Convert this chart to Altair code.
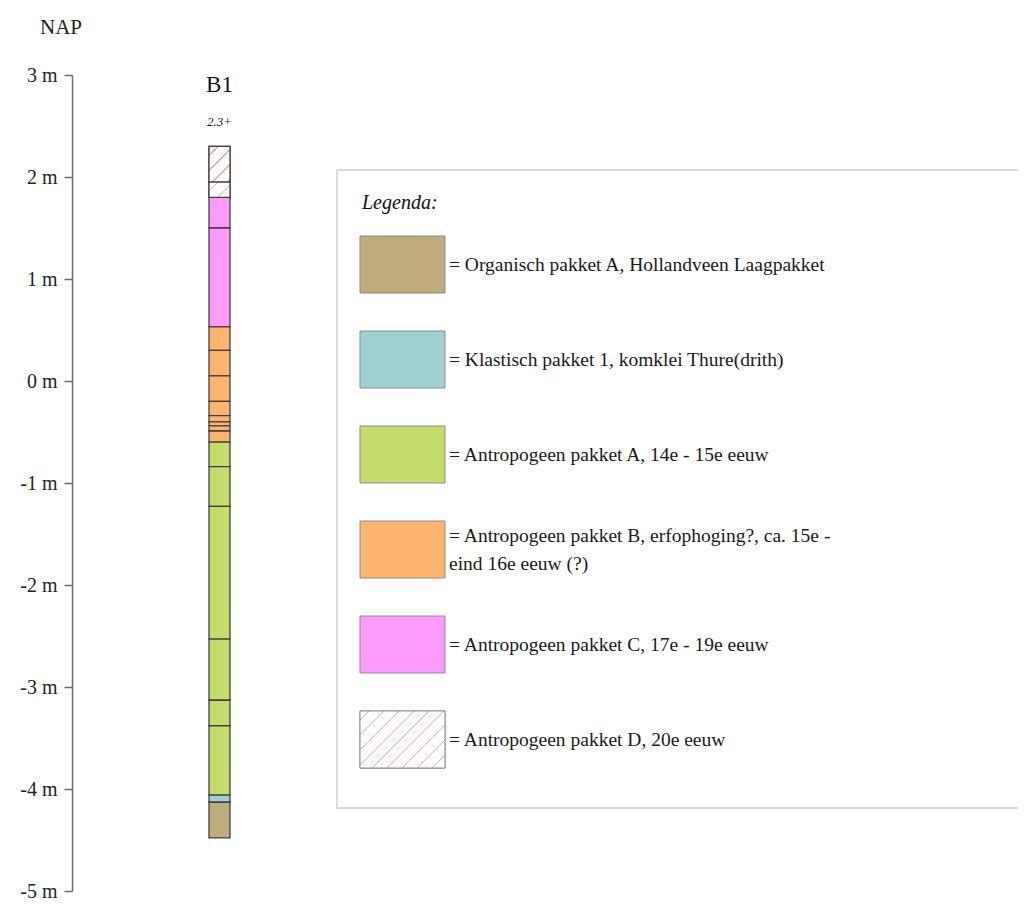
import altair as alt
import pandas as pd

# ---------------- data ----------------
unit_codes = ["OA", "K1", "AA", "AB", "AC", "AD"]
unit_lines = [
    ["= Organisch pakket A, Hollandveen Laagpakket"],
    ["= Klastisch pakket 1, komklei Thure(drith)"],
    ["= Antropogeen pakket A, 14e - 15e eeuw"],
    ["= Antropogeen pakket B, erfophoging?, ca. 15e  -", "\u00a0\u00a0\u00a0\u00a0eind 16e eeuw (?)"],
    ["= Antropogeen pakket C, 17e  - 19e eeuw"],
    ["= Antropogeen pakket D, 20e eeuw"],
]
unit_colors = ["#BEAC7D", "#9ED0D2", "#C4DC6C", "#FDB46E", "#FC9BFC", "#FFFFFF"]
hatched_unit = "AD"

layer_top = [2.30, 1.95, 1.80, 1.50, 0.53, 0.30, 0.05, -0.20, -0.34, -0.40,
             -0.44, -0.49, -0.60, -0.84, -1.23, -2.53, -3.13, -3.38, -4.06, -4.13]
layer_bottom = [1.95, 1.80, 1.50, 0.53, 0.30, 0.05, -0.20, -0.34, -0.40, -0.44,
                -0.49, -0.60, -0.84, -1.23, -2.53, -3.13, -3.38, -4.06, -4.13, -4.48]
layer_unit = ["AD", "AD", "AC", "AC", "AB", "AB", "AB", "AB", "AB", "AB",
              "AB", "AB", "AA", "AA", "AA", "AA", "AA", "AA", "K1", "OA"]

borehole_name = "B1"
axis_values = [3, 2, 1, 0, -1, -2, -3, -4, -5]

# ---------------- layout / style ----------------
LEFT, TOP = 64, 67
PLOT_W, PLOT_H = 946, 816
BOTTOM = 892 - TOP - PLOT_H
Y_DOMAIN = [-5, 3]
PX_PER_M = PLOT_H / (Y_DOMAIN[1] - Y_DOMAIN[0])
SERIF = "Liberation Serif"


def px(page_x):
    return page_x - 8 - LEFT


def py(page_y):
    return page_y - 8 - TOP


COL_X0, COL_X1 = px(209), px(230)
SW_X0, SW_X1 = px(360), px(445)
LEG_RANGE = [py(236), py(768)]
LEG_PAD = 0.4
SW_H = (LEG_RANGE[1] - LEG_RANGE[0]) / (len(unit_codes) - LEG_PAD) * (1 - LEG_PAD)
LINE_H = 28


def hatch(w, h, spacing=15.0, lw=1.3, color="#F3A5A5"):
    s = w + h
    gx = (w + h) * w / (w * w + h * h)
    gy = (w + h) * h / (w * w + h * h)
    stops = [{"offset": 0, "color": "#FFFFFF"}]
    c = spacing * 0.6
    while c < s:
        t0 = max(0.0, (c - lw / 2) / s)
        t1 = min(1.0, (c + lw / 2) / s)
        stops += [
            {"offset": t0, "color": "#FFFFFF"},
            {"offset": t0, "color": color},
            {"offset": t1, "color": color},
            {"offset": t1, "color": "#FFFFFF"},
        ]
        c += spacing
    stops.append({"offset": 1, "color": "#FFFFFF"})
    return {"gradient": "linear", "x1": 0, "y1": 0, "x2": gx, "y2": gy, "stops": stops}


layers_df = pd.DataFrame({"top": layer_top, "bottom": layer_bottom, "unit": layer_unit})
legend_df = pd.DataFrame({"idx": list(range(len(unit_codes))), "unit": unit_codes})
text_rows = []
for i, lines in enumerate(unit_lines):
    n = len(lines)
    for j, ln in enumerate(lines):
        text_rows.append({"idx": i, "line": ln, "off": SW_H / 2 + (j - (n - 1) / 2) * LINE_H})
legend_txt_df = pd.DataFrame(text_rows)

color = alt.Color("unit:N", scale=alt.Scale(domain=unit_codes, range=unit_colors), legend=None)
yq_scale = alt.Scale(domain=Y_DOMAIN, nice=False, zero=False)
leg_scale = alt.Scale(domain=list(range(len(unit_codes))), range=LEG_RANGE,
                      paddingInner=LEG_PAD, paddingOuter=0)

# borehole column
column = alt.Chart(layers_df).mark_rect(stroke="#404040", strokeWidth=1.3).encode(
    x=alt.value(COL_X0), x2=alt.value(COL_X1),
    y=alt.Y("top:Q", scale=yq_scale,
            axis=alt.Axis(values=axis_values, labelExpr="datum.value + ' m'", title=None,
                          orient="left", grid=False, tickSize=8, domainColor="#6b6b6b",
                          tickColor="#6b6b6b", domainWidth=1.5, tickWidth=1.5,
                          labelFont=SERIF, labelFontSize=20, labelColor="#222222",
                          labelPadding=7)),
    y2="bottom:Q",
    fill=color,
)

hatch_layers = []
for i, r in layers_df[layers_df["unit"] == hatched_unit].iterrows():
    h = (r["top"] - r["bottom"]) * PX_PER_M
    hatch_layers.append(
        alt.Chart(layers_df.loc[[i]]).mark_rect(
            fill=hatch(COL_X1 - COL_X0, h), stroke="#404040", strokeWidth=1.3
        ).encode(
            x=alt.value(COL_X0), x2=alt.value(COL_X1),
            y=alt.Y("top:Q", scale=yq_scale, axis=None), y2="bottom:Q",
        )
    )

name_df = pd.DataFrame({"t": [borehole_name]})
name_txt = alt.Chart(name_df).mark_text(font=SERIF, fontSize=23, color="#111111").encode(
    text="t:N", x=alt.value((COL_X0 + COL_X1) / 2), y=alt.value(py(85)))
top_df = pd.DataFrame({"t": [f"{layer_top[0]}+"]})
top_txt = alt.Chart(top_df).mark_text(font=SERIF, fontSize=13, fontStyle="italic", color="#222222").encode(
    text="t:N", x=alt.value((COL_X0 + COL_X1) / 2), y=alt.value(py(122)))
nap_df = pd.DataFrame({"t": ["NAP"]})
nap_txt = alt.Chart(nap_df).mark_text(font=SERIF, fontSize=21, color="#222222").encode(
    text="t:N", x=alt.value(px(61)), y=alt.value(py(28)))

# legend box (right edge runs off the page)
box = alt.Chart(nap_df).mark_rect(fill="#FFFFFF", fillOpacity=0, stroke="#d0d0d0", strokeWidth=1.5).encode(
    x=alt.value(px(337)), x2=alt.value(PLOT_W + 40), y=alt.value(py(170)), y2=alt.value(py(808)))

leg_title_df = pd.DataFrame({"t": ["Legenda:"]})
leg_title = alt.Chart(leg_title_df).mark_text(font=SERIF, fontSize=20, fontStyle="italic",
                                               align="left", color="#111111").encode(
    text="t:N", x=alt.value(px(362)), y=alt.value(py(203)))

swatches = alt.Chart(legend_df).mark_rect(stroke="#8c8c8c", strokeWidth=1).encode(
    x=alt.value(SW_X0), x2=alt.value(SW_X1),
    y=alt.Y("idx:O", scale=leg_scale, axis=None),
    fill=color,
)
hatch_swatch = alt.Chart(legend_df[legend_df["unit"] == hatched_unit]).mark_rect(
    fill=hatch(SW_X1 - SW_X0, SW_H), stroke="#8c8c8c", strokeWidth=1
).encode(
    x=alt.value(SW_X0), x2=alt.value(SW_X1),
    y=alt.Y("idx:O", scale=leg_scale, axis=None),
)
leg_text = alt.Chart(legend_txt_df).mark_text(font=SERIF, fontSize=19.5, align="left", baseline="middle",
                                               color="#1a1a1a").encode(
    text="line:N", x=alt.value(SW_X1 + 4),
    y=alt.Y("idx:O", scale=leg_scale, axis=None),
    yOffset=alt.YOffset("off:Q", scale=None),
)

chart = alt.layer(
    column, *hatch_layers, name_txt, top_txt, nap_txt,
    box, leg_title, swatches, hatch_swatch, leg_text
).resolve_scale(y="independent").properties(
    width=PLOT_W, height=PLOT_H,
    padding={"left": LEFT, "top": TOP, "right": 0, "bottom": BOTTOM},
    autosize=alt.AutoSizeParams(type="none"),
    background="#FFFFFF",
).configure_view(stroke=None)

chart.save("out.html", embed_options={"renderer": "svg", "actions": False})
